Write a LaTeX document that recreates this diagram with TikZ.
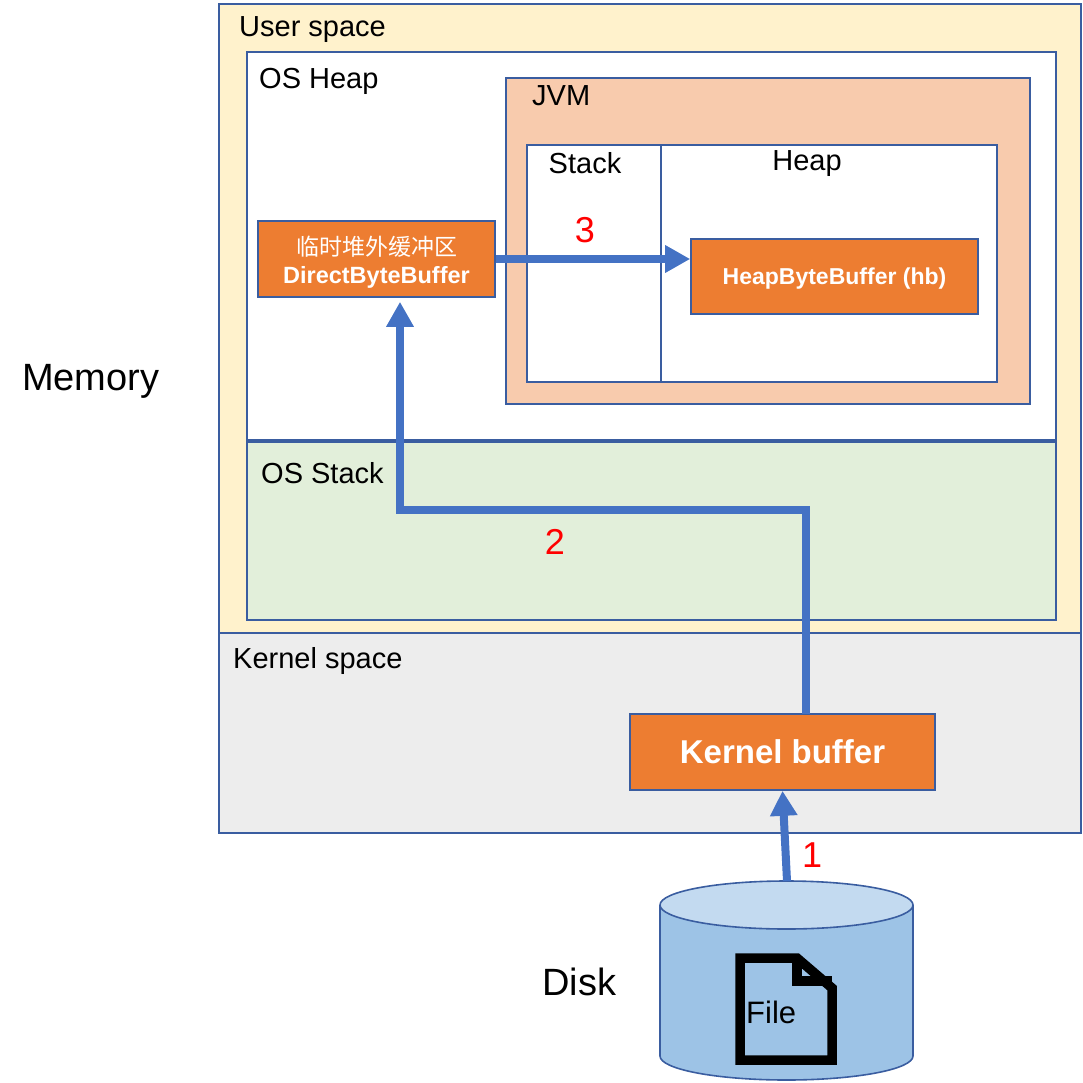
\documentclass[tikz,border=0pt]{standalone}
\usepackage{fontspec}
\setmainfont{Liberation Sans}
\newfontfamily\cjk{Noto Sans CJK SC}
\usetikzlibrary{arrows.meta}
\definecolor{bordc}{HTML}{3A5DA0}
\definecolor{userfill}{HTML}{FFF2CC}
\definecolor{kernfill}{HTML}{EDEDED}
\definecolor{stackfill}{HTML}{E2EFDA}
\definecolor{jvmfill}{HTML}{F8CBAD}
\definecolor{orangefill}{HTML}{ED7D31}
\definecolor{arrowc}{HTML}{4472C4}
\definecolor{diskbody}{HTML}{9DC3E6}
\definecolor{disktop}{HTML}{C3DAF0}
\definecolor{numred}{HTML}{FF0000}
\newcommand{\fsz}[1]{\fontsize{#1}{#1}\selectfont}
\tikzset{
  region/.style={draw=bordc, line width=1.6pt, inner sep=0pt, rectangle},
  obox/.style={region, fill=orangefill, text=white},
  lbl/.style={inner sep=0pt, anchor=base west, font=\fsz{29}},
  clbl/.style={inner sep=0pt, anchor=base, font=\fsz{29}},
  big/.style={inner sep=0pt, anchor=base west, font=\fsz{38}},
  num/.style={inner sep=0pt, text=numred, font=\fsz{36}},
  flow/.style={draw=arrowc, line width=8pt, line join=miter,
    -{Triangle[width=26pt,length=25pt]}},
}
\begin{document}
\begin{tikzpicture}[x=1pt,y=-1pt]
\useasboundingbox (0,0) rectangle (1083,1083);
% regions
\node[region, fill=userfill, minimum width=862pt, minimum height=629pt] (user) at (650,318.5) {};
\node[region, fill=kernfill, minimum width=862pt, minimum height=200pt] (kern) at (650,733) {};
\node[region, fill=white, minimum width=809pt, minimum height=388pt] (osheap) at (651.5,246) {};
\node[region, fill=stackfill, minimum width=809pt, minimum height=178pt] (osstack) at (651.5,531) {};
\node[region, fill=jvmfill, minimum width=524pt, minimum height=326pt] (jvm) at (768,241) {};
\node[region, fill=white, minimum width=134pt, minimum height=237pt] (jstack) at (594,263.5) {};
\node[region, fill=white, minimum width=336pt, minimum height=237pt] (jheap) at (829,263.5) {};
% labels of regions
\node[lbl] (tuser) at (239,37) {User space};
\node[lbl] (theap) at (259,89) {OS Heap};
\node[lbl] (tjvm) at (532,106) {JVM};
\node[clbl] (tstack) at (585,174) {Stack};
\node[clbl] (tjheap) at (807,171) {Heap};
\node[lbl] (tosstack) at (261,483) {OS Stack};
\node[lbl] (tkern) at (233,668) {Kernel space};
\node[big] (tmem) at (22,390) {Memory};
\node[big] (tdisk) at (542,995) {Disk};
% buffers
\node[obox, minimum width=237pt, minimum height=76pt, align=center, font=\fontsize{23}{28}\selectfont] (dbb) at (376.5,259)
  {\rule{0pt}{26pt}{\cjk 临时堆外缓冲区}\\{\fontsize{23.5}{28}\selectfont\bfseries DirectByteBuffer}};
\node[obox, minimum width=287pt, minimum height=75pt, text depth=0pt, font=\bfseries\fsz{23}] (hbb) at (834.5,276.5) {HeapByteBuffer (hb)};
\node[obox, minimum width=305pt, minimum height=76pt, font=\bfseries\fsz{33}] (kb) at (782.5,752) {Kernel buffer};
% disk
\draw[draw=bordc, line width=1.6pt, fill=diskbody] (660,905) -- (660,1056)
  arc[start angle=180, end angle=360, x radius=126.5pt, y radius=24pt] -- (913,905);
\draw[draw=bordc, line width=1.6pt, fill=disktop] (786.5,905) ellipse[x radius=126.5pt, y radius=24pt];
\coordinate (disktopc) at (787,881);
% file icon
\draw[line width=9.5pt, line join=miter] (740,958) -- (797,958) -- (832,988) -- (832,1060) -- (740,1060) -- cycle;
\draw[line width=9.5pt, line join=miter] (797,958) -- (797,981) -- (832,981);
\node[inner sep=0pt, anchor=base west, font=\fsz{31}] (tfile) at (746,1023) {File};
% flows
\coordinate (k2) at (806,714);
\coordinate (bend1) at (806,510);
\coordinate (bend2) at (400,510);
\draw[flow] (disktopc) -- (kb.south);
\draw[flow, shorten >=4pt] (k2) -- (bend1) -- (bend2) -- (bend2 |- dbb.south);
\draw[flow] (dbb.east) -- (hbb.west |- dbb.east);
% numbers
\node[num] (n1) at (812,855) {1};
\node[num] (n2) at (555,542) {2};
\node[num] (n3) at (585,230) {3};
\end{tikzpicture}
\end{document}
